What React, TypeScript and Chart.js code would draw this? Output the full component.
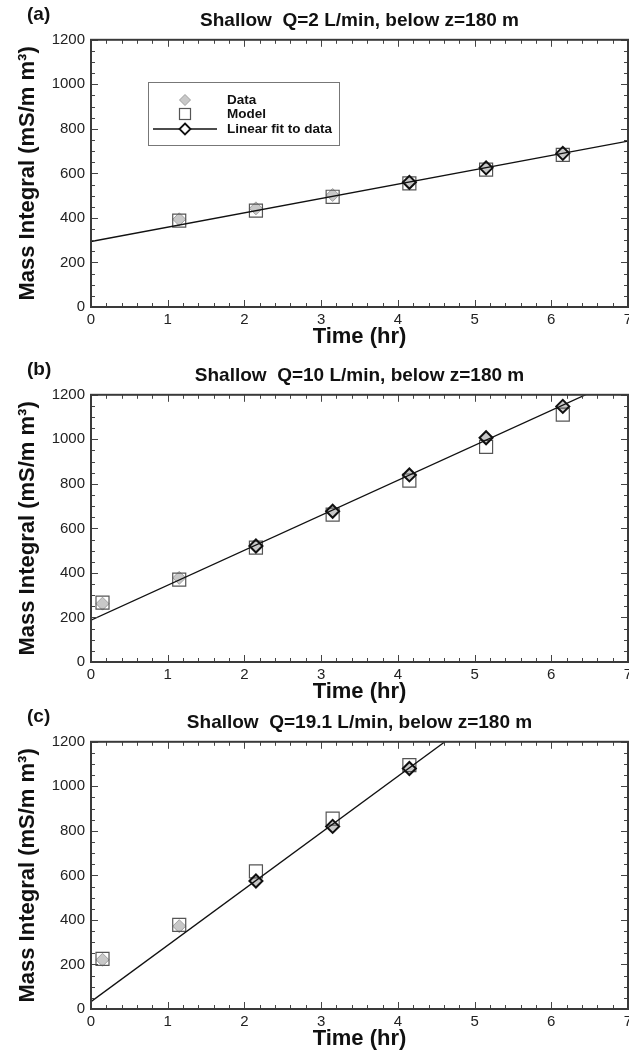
import React, { useEffect, useRef } from "react";
import { Chart, registerables } from "chart.js";

Chart.register(...registerables);

const FONT = '"Liberation Sans", Arial, Helvetica, sans-serif';

// ---------- Panel (a) ----------
const titleA = "Shallow  Q=2 L/min, below z=180 m";
const timeA = [1.15, 2.15, 3.15, 4.15, 5.15, 6.15];
const dataA = [394, 443, 503, 560, 625, 690];
const modelA = [388, 433, 495, 555, 617, 683];
const fitTimeA = [4.15, 5.15, 6.15];
const fitA = [560, 625, 690];
const fitLineTimeA = [0, 7];
const fitLineA = [294, 745];

// ---------- Panel (b) ----------
const titleB = "Shallow  Q=10 L/min, below z=180 m";
const timeB = [0.15, 1.15, 2.15, 3.15, 4.15, 5.15, 6.15];
const dataB = [262, 378, 521, 677, 840, 1007, 1148];
const modelB = [267, 370, 514, 662, 815, 966, 1111];
const fitTimeB = [2.15, 3.15, 4.15, 5.15, 6.15];
const fitB = [521, 677, 840, 1007, 1148];
const fitLineTimeB = [0, 7];
const fitLineB = [188, 1287];

// ---------- Panel (c) ----------
const titleC = "Shallow  Q=19.1 L/min, below z=180 m";
const timeC = [0.15, 1.15, 2.15, 3.15, 4.15];
const dataC = [221, 372, 575, 820, 1080];
const modelC = [225, 378, 618, 855, 1095];
const fitTimeC = [2.15, 3.15, 4.15];
const fitC = [575, 820, 1080];
const fitLineTimeC = [0, 7];
const fitLineC = [33, 1804];

// ---------- Axes ----------
const xMin = 0;
const xMax = 7;
const xStep = 1;
const yMin = 0;
const yMax = 1200;
const yStep = 200;
const xTitle = "Time (hr)";
const yTitle = "Mass Integral (mS/m m³)";
const legendLabels = ["Data", "Model", "Linear fit to data"];

const CANVAS_W = 629;
const CANVAS_H = 350;
const PLOT_BOTTOM = 307;

type PanelDef = {
  label: string;
  title: string;
  time: number[];
  data: number[];
  model: number[];
  fitTime: number[];
  fit: number[];
  fitLineTime: number[];
  fitLine: number[];
  legend: boolean;
  top: number;
};

const panels: PanelDef[] = [
  { label: "(a)", title: titleA, time: timeA, data: dataA, model: modelA, fitTime: fitTimeA, fit: fitA, fitLineTime: fitLineTimeA, fitLine: fitLineA, legend: true, top: 0 },
  { label: "(b)", title: titleB, time: timeB, data: dataB, model: modelB, fitTime: fitTimeB, fit: fitB, fitLineTime: fitLineTimeB, fitLine: fitLineB, legend: false, top: 355 },
  { label: "(c)", title: titleC, time: timeC, data: dataC, model: modelC, fitTime: fitTimeC, fit: fitC, fitLineTime: fitLineTimeC, fitLine: fitLineC, legend: false, top: 702 },
];

const pts = (xs: number[], ys: number[]) => xs.map((x, i) => ({ x, y: ys[i] }));

function diamond(ctx: CanvasRenderingContext2D, x: number, y: number, r: number) {
  ctx.beginPath();
  ctx.moveTo(x, y - r);
  ctx.lineTo(x + r, y);
  ctx.lineTo(x, y + r);
  ctx.lineTo(x - r, y);
  ctx.closePath();
}

function buildConfig(p: PanelDef): any {
  const framePlugin = {
    id: "frameTicks",
    afterDatasetsDraw(chart: any) {
      const { ctx, chartArea } = chart;
      const { left, right, top, bottom } = chartArea;
      const xs = chart.scales.x;
      const ys = chart.scales.y;
      ctx.save();
      ctx.strokeStyle = "#444";
      ctx.lineWidth = 1;
      ctx.beginPath();
      const nx = Math.round((xMax - xMin) * 5);
      for (let i = 0; i <= nx; i++) {
        const px = Math.round(xs.getPixelForValue(xMin + i / 5)) + 0.5;
        const len = i % 5 === 0 ? 7 : 4;
        ctx.moveTo(px, bottom);
        ctx.lineTo(px, bottom - len);
        ctx.moveTo(px, top);
        ctx.lineTo(px, top + len);
      }
      const ny = Math.round((yMax - yMin) / 50);
      for (let j = 0; j <= ny; j++) {
        const py = Math.round(ys.getPixelForValue(yMin + j * 50)) + 0.5;
        const len = j % 4 === 0 ? 7 : 4;
        ctx.moveTo(left, py);
        ctx.lineTo(left + len, py);
        ctx.moveTo(right, py);
        ctx.lineTo(right - len, py);
      }
      ctx.stroke();
      ctx.lineWidth = 2;
      ctx.strokeStyle = "#3a3a3a";
      ctx.strokeRect(left, top, right - left, bottom - top);
      ctx.restore();
    },
    afterDraw(chart: any) {
      const ctx: CanvasRenderingContext2D = chart.ctx;
      ctx.save();
      ctx.fillStyle = "#111";
      ctx.font = `bold 19px ${FONT}`;
      ctx.textAlign = "left";
      ctx.textBaseline = "middle";
      ctx.fillText(p.label, 27, 15);
      if (p.legend) {
        const bx = 148, by = 82, bw = 191, bh = 63;
        ctx.fillStyle = "#fff";
        ctx.fillRect(bx, by, bw, bh);
        ctx.strokeStyle = "#777";
        ctx.lineWidth = 1;
        ctx.strokeRect(bx + 0.5, by + 0.5, bw, bh);
        const mx = 185;
        const tx = 227;
        const rows = [100, 114, 129];
        // Data
        diamond(ctx, mx, rows[0], 5.5);
        ctx.fillStyle = "#c8c8c8";
        ctx.fill();
        ctx.strokeStyle = "#a0a0a0";
        ctx.stroke();
        // Model
        ctx.strokeStyle = "#555";
        ctx.lineWidth = 1.2;
        ctx.strokeRect(mx - 5.5, rows[1] - 5.5, 11, 11);
        // Linear fit
        ctx.strokeStyle = "#111";
        ctx.lineWidth = 1.3;
        ctx.beginPath();
        ctx.moveTo(153, rows[2]);
        ctx.lineTo(217, rows[2]);
        ctx.stroke();
        diamond(ctx, mx, rows[2], 5.5);
        ctx.fillStyle = "#fff";
        ctx.fill();
        ctx.lineWidth = 1.8;
        ctx.stroke();
        ctx.fillStyle = "#111";
        ctx.font = `bold 13.5px ${FONT}`;
        ctx.textBaseline = "middle";
        legendLabels.forEach((t, i) => ctx.fillText(t, tx, rows[i]));
      }
      ctx.restore();
    },
  };

  return {
    type: "scatter",
    data: {
      datasets: [
        {
          label: legendLabels[2],
          data: pts(p.fitLineTime, p.fitLine),
          showLine: true,
          borderColor: "#111",
          borderWidth: 1.3,
          pointRadius: 0,
          order: 0,
        },
        {
          label: legendLabels[2] + " points",
          data: pts(p.fitTime, p.fit),
          showLine: false,
          pointStyle: "rectRot",
          pointRadius: 6.5,
          borderColor: "#111",
          borderWidth: 2,
          backgroundColor: "rgba(0,0,0,0)",
          order: 1,
        },
        {
          label: legendLabels[1],
          data: pts(p.time, p.model),
          showLine: false,
          pointStyle: "rect",
          pointRadius: 9.2,
          borderColor: "#555",
          borderWidth: 1.2,
          backgroundColor: "rgba(0,0,0,0)",
          order: 2,
        },
        {
          label: legendLabels[0],
          data: pts(p.time, p.data),
          showLine: false,
          pointStyle: "rectRot",
          pointRadius: 6.5,
          borderColor: "#a0a0a0",
          borderWidth: 1,
          backgroundColor: "#c8c8c8",
          order: 3,
        },
      ],
    },
    options: {
      animation: false,
      responsive: false,
      devicePixelRatio: 1,
      events: [],
      layout: { autoPadding: false, padding: { left: 0, right: 1, top: 0, bottom: 0 } },
      plugins: {
        legend: { display: false },
        tooltip: { enabled: false },
        title: {
          display: true,
          text: p.title,
          fullSize: false,
          color: "#111",
          font: { family: FONT, size: 19, weight: "bold" },
          padding: { top: 9, bottom: 8 },
        },
      },
      scales: {
        x: {
          type: "linear",
          min: xMin,
          max: xMax,
          grid: { display: false, drawTicks: false },
          border: { display: false },
          ticks: {
            stepSize: xStep,
            color: "#222",
            font: { family: FONT, size: 15 },
            padding: 4,
            maxRotation: 0,
            callback: (v: any) => String(v),
          },
          title: {
            display: true,
            text: xTitle,
            color: "#111",
            font: { family: FONT, size: 22, weight: "bold" },
            padding: { top: 0, bottom: 0 },
          },
          afterFit: (s: any) => {
            s.height = CANVAS_H - PLOT_BOTTOM;
            s.paddingLeft = 0;
            s.paddingRight = 0;
          },
        },
        y: {
          type: "linear",
          min: yMin,
          max: yMax,
          grid: { display: false, drawTicks: false },
          border: { display: false },
          ticks: {
            stepSize: yStep,
            color: "#222",
            font: { family: FONT, size: 15 },
            padding: 6,
            callback: (v: any) => String(v),
          },
          title: {
            display: true,
            text: yTitle,
            color: "#111",
            font: { family: FONT, size: 22, weight: "bold" },
            padding: { top: 15, bottom: 0 },
          },
          afterFit: (s: any) => {
            s.width = 91;
            s.paddingTop = 0;
            s.paddingBottom = 0;
          },
        },
      },
    },
    plugins: [framePlugin],
  };
}

function Panel({ def }: { def: PanelDef }) {
  const ref = useRef<HTMLCanvasElement | null>(null);
  useEffect(() => {
    if (!ref.current) return;
    const chart = new Chart(ref.current, buildConfig(def));
    return () => chart.destroy();
  }, [def]);
  return (
    <canvas
      ref={ref}
      width={CANVAS_W}
      height={CANVAS_H}
      style={{ position: "absolute", left: 0, top: def.top, width: CANVAS_W, height: CANVAS_H }}
    />
  );
}

export default function App() {
  return (
    <div
      style={{
        position: "absolute",
        left: 0,
        top: 0,
        width: 629,
        height: 1051,
        background: "#fff",
        overflow: "hidden",
      }}
    >
      {panels.map((p) => (
        <Panel key={p.label} def={p} />
      ))}
    </div>
  );
}
